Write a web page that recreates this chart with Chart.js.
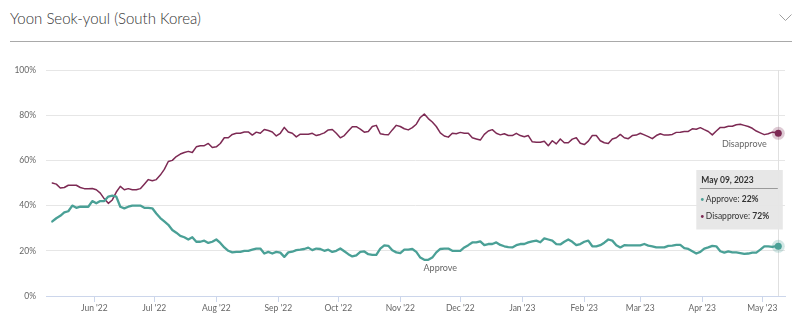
<!DOCTYPE html>
<html>
<head>
<meta charset="utf-8">
<script src="https://cdn.jsdelivr.net/npm/chart.js@4.4.0/dist/chart.umd.min.js"></script>
<style>
  html, body { margin: 0; padding: 0; background: #fff; }
  body { width: 800px; height: 327px; position: relative; overflow: hidden; font-family: Lato, sans-serif; }
  .header {
    position: absolute; left: 10px; top: 0; width: 782px; height: 41px;
    border-bottom: 1px solid #a9a9a9;
  }
  .header .title {
    position: absolute; left: 0; top: 8px; line-height: 20px;
    font-size: 15px; font-weight: 300; color: #333;
  }
  .header svg { position: absolute; right: 0; top: 13px; }
  .chart-wrap { position: absolute; left: 0; top: 50px; width: 800px; height: 277px; }
</style>
</head>
<body>
<div class="header">
  <span class="title">Yoon Seok-youl (South Korea)</span>
  <svg width="13" height="9" viewBox="0 0 13 9"><polyline points="0.5,1.5 6.5,7.5 12.5,1.5" fill="none" stroke="#a0a0a0" stroke-width="1"/></svg>
</div>
<div class="chart-wrap"><canvas id="approvalChart"></canvas></div>

<script>
// Day offsets from the first poll average (11 May 2022)
const startDate = Date.UTC(2022, 4, 11);
const sampleDays = [
  0, 2, 4, 6, 8, 10, 12, 14, 16, 18, 20, 22, 24, 26, 28, 30, 32, 34, 36, 38,
  40, 42, 44, 46, 48, 50, 52, 54, 56, 58, 60, 62, 64, 66, 68, 70, 72, 74, 76, 78,
  80, 82, 84, 86, 88, 90, 92, 94, 96, 98, 100, 102, 104, 106, 108, 110, 112, 114, 116, 118,
  120, 122, 124, 126, 128, 130, 132, 134, 136, 138, 140, 142, 144, 146, 148, 150, 152, 154, 156, 158,
  160, 162, 164, 166, 168, 170, 172, 174, 176, 178, 180, 182, 184, 186, 188, 190, 192, 194, 196, 198,
  200, 202, 204, 206, 208, 210, 212, 214, 216, 218, 220, 222, 224, 226, 228, 230, 232, 234, 236, 238,
  240, 242, 244, 246, 248, 250, 252, 254, 256, 258, 260, 262, 264, 266, 268, 270, 272, 274, 276, 278,
  280, 282, 284, 286, 288, 290, 292, 294, 296, 298, 300, 302, 304, 306, 308, 310, 312, 314, 316, 318,
  320, 322, 324, 326, 328, 330, 332, 334, 336, 338, 340, 342, 344, 346, 348, 350, 352, 354, 356, 358,
  360, 362, 363
];

const approve = [
  33, 34.4, 35.5, 37, 37.5, 40, 39, 39.5, 39.5, 39.5, 42, 41, 42, 42, 44, 44.4, 44, 39.5, 38.8, 39.5,
  40, 40, 40, 39, 39, 38.8, 36.5, 34.5, 33, 31.5, 29.2, 28, 26.6, 26, 25, 26, 24,
  24, 24.5, 23.5, 24, 25, 23.5, 21.5, 20, 19.3, 19.5, 19.5, 20, 20, 20.5, 21, 21, 18.8, 19.5, 18.8,
  19.5, 19.2, 17.3, 19.3, 19.6, 20.3, 20.5, 20.8, 21.4, 20.3, 21, 20.8, 20, 20.5, 19.5, 20, 21, 19.8,
  18.5, 17.5, 18, 19.5, 19.7, 18.5, 18.2, 18.2, 21, 22.4, 22.2, 20.2, 19.3, 19, 20.5, 20.5, 20.8, 19.5,
  17, 16, 16, 17, 19.3, 20.8, 21, 21, 20, 20, 20, 21.5, 22.5, 23.7, 23.7, 24.2, 22.5, 23, 23,
  23.7, 22.6, 22, 21.6, 21.5, 22.5, 23, 23, 23.7, 24.2, 24.5, 23.8, 25.5, 25, 24.5, 23, 22.8, 24, 25,
  24, 22.5, 23, 24, 24.5, 22, 22, 22.5, 23.6, 25, 24.5, 22.5, 21.5, 22.5, 22.4, 22.4, 22.4, 22.4, 23,
  22.3, 22, 21.5, 21.5, 21.5, 22.2, 22.3, 22.6, 22.6, 21.2, 20.8, 19.8, 18.8, 19.5, 21, 21.5, 22.2,
  22, 19.8, 19.2, 19.7, 19.3, 19.3, 19, 18.6, 18.8, 19.2, 19.2, 20.5, 22, 22, 21.7, 22.1, 22
];

const disapprove = [
  50, 49.5, 47.8, 48, 49, 49, 49, 48, 47.5, 47.5, 47.6, 47, 45.5, 43, 41, 42.5, 46, 48.5, 47, 47.5,
  47, 47, 47.5, 49.5, 51.5, 51, 51.5, 53.5, 56, 59.5, 60, 61.7, 62.8, 63.5, 64, 63.5, 66,
  66.5, 66.5, 67.5, 65.7, 66, 67.5, 70, 70, 71.5, 72, 72, 72.6, 72.6, 71.2, 72.5, 72, 73.7, 73.2, 72.6,
  70.8, 72, 74.6, 72.6, 72, 70.4, 71.6, 71.6, 71.6, 72, 71, 71.5, 72.2, 73.5, 73.7, 72, 70, 71,
  73, 74.9, 74.9, 73.8, 72.5, 72.8, 75, 75.5, 71.8, 71.5, 71.3, 73.5, 75.5, 75, 74, 73.5, 74.5, 76,
  79, 80.5, 78.5, 77, 75, 72.2, 70.8, 70.3, 72, 71.8, 72.4, 72, 72, 70, 69.5, 69, 71.5, 73, 73.6,
  72, 71.3, 71.8, 71, 71, 72, 71, 70.5, 71, 68.2, 68, 68, 68.5, 66.5, 68.7, 67.3, 69.5, 67.8, 67.8,
  69.4, 70, 67.6, 67, 68.5, 71, 71, 68.7, 67.8, 67.5, 69.5, 70, 71.5, 70, 69.6, 71, 71.2, 72, 71.3,
  70.5, 69.6, 71, 71.8, 71.2, 71.2, 71.5, 72.4, 72.5, 72.8, 72.8, 74, 73.8, 74.5, 73.6, 72.8, 71.3,
  73, 74.6, 74.6, 75.1, 75.1, 75.8, 76, 75.5, 75, 74.2, 73, 72.2, 71.4, 71.8, 72.5, 72.3, 72
];

// Month ticks along the bottom axis
const tickDates = ['2022-06-01', '2022-07-01', '2022-08-01', '2022-09-01', '2022-10-01', '2022-11-01',
  '2022-12-01', '2023-01-01', '2023-02-01', '2023-03-01', '2023-04-01', '2023-05-01'];
const tickLabels = ["Jun '22", "Jul '22", "Aug '22", "Sep '22", "Oct '22", "Nov '22",
  "Dec '22", "Jan '23", "Feb '23", "Mar '23", "Apr '23", "May '23"];
const yTicks = [0, 20, 40, 60, 80, 100];

const monthNames = ['Jan', 'Feb', 'Mar', 'Apr', 'May', 'Jun', 'Jul', 'Aug', 'Sep', 'Oct', 'Nov', 'Dec'];
const DAY = 86400000;
const tickDays = tickDates.map(d => Math.round((Date.parse(d + 'T00:00:00Z') - startDate) / DAY));

const APPROVE_COLOR = '#4aa096';
const DISAPPROVE_COLOR = '#7d2a54';
const FONT = 'Lato';

// where the inline series names sit (day, percent)
const approveLabelAt = { day: 194, value: 12.3 };
const disapproveLabelAt = { day: 346, value: 67.3 };

function formatDate(dayOffset) {
  const d = new Date(startDate + dayOffset * DAY);
  const dd = String(d.getUTCDate()).padStart(2, '0');
  return monthNames[d.getUTCMonth()] + ' ' + dd + ', ' + d.getUTCFullYear();
}

// crosshair, hover markers, series names and the tooltip box for the latest day
const overlayPlugin = {
  id: 'overlay',
  beforeDatasetsDraw(chart) {
    const ctx = chart.ctx;
    const area = chart.chartArea;
    const last = chart.getDatasetMeta(0).data[sampleDays.length - 1];
    ctx.save();
    ctx.strokeStyle = '#e0e0e0';
    ctx.lineWidth = 1;
    ctx.beginPath();
    ctx.moveTo(Math.round(last.x) + 0.5, area.top);
    ctx.lineTo(Math.round(last.x) + 0.5, area.bottom);
    ctx.stroke();
    ctx.restore();
  },
  afterDatasetsDraw(chart) {
    const ctx = chart.ctx;
    const area = chart.chartArea;
    const xs = chart.scales.x, ys = chart.scales.y;
    const n = sampleDays.length - 1;
    const ptA = chart.getDatasetMeta(0).data[n];
    const ptD = chart.getDatasetMeta(1).data[n];

    ctx.save();
    // hover halos + markers
    [[ptA, APPROVE_COLOR, 'rgba(74,160,150,0.25)'], [ptD, DISAPPROVE_COLOR, 'rgba(125,42,84,0.25)']].forEach(([p, c, h]) => {
      ctx.fillStyle = h;
      ctx.beginPath(); ctx.arc(p.x, p.y, 6.5, 0, Math.PI * 2); ctx.fill();
      ctx.fillStyle = c;
      ctx.beginPath(); ctx.arc(p.x, p.y, 3.5, 0, Math.PI * 2); ctx.fill();
    });

    // series names
    ctx.font = '9px ' + FONT;
    ctx.fillStyle = '#666';
    ctx.textAlign = 'center';
    ctx.textBaseline = 'middle';
    ctx.fillText('Approve', xs.getPixelForValue(approveLabelAt.day), ys.getPixelForValue(approveLabelAt.value));
    ctx.fillText('Disapprove', xs.getPixelForValue(disapproveLabelAt.day), ys.getPixelForValue(disapproveLabelAt.value));

    // tooltip
    const bx = ptA.x - 82, by = area.top + 100, bw = 86.5, bh = 59.5;
    ctx.fillStyle = 'rgba(230,230,230,0.95)';
    ctx.fillRect(bx, by, bw, bh);

    ctx.textAlign = 'left';
    ctx.fillStyle = '#333';
    ctx.font = 'bold 8.5px ' + FONT;
    ctx.fillText(formatDate(sampleDays[n]), bx + 5, by + 10);

    ctx.strokeStyle = '#9a9a9a';
    ctx.lineWidth = 1;
    ctx.beginPath();
    ctx.moveTo(bx + 3.5, Math.round(by + 18) + 0.5);
    ctx.lineTo(bx + 81.5, Math.round(by + 18) + 0.5);
    ctx.stroke();

    const rows = [
      ['Approve: ', approve[n], APPROVE_COLOR, by + 29.5],
      ['Disapprove: ', disapprove[n], DISAPPROVE_COLOR, by + 46.5]
    ];
    rows.forEach(([name, val, color, y]) => {
      ctx.fillStyle = color;
      ctx.beginPath(); ctx.arc(bx + 6, y, 1.4, 0, Math.PI * 2); ctx.fill();
      ctx.fillStyle = '#333';
      ctx.font = '8.5px ' + FONT;
      ctx.fillText(name, bx + 9.5, y);
      const w = ctx.measureText(name).width;
      ctx.font = 'bold 8.5px ' + FONT;
      ctx.fillText(Math.round(val) + '%', bx + 9.5 + w, y);
    });
    ctx.restore();
  }
};

const axisFont = { family: FONT, size: 8.5 };

new Chart(document.getElementById('approvalChart'), {
  type: 'line',
  data: {
    datasets: [
      {
        label: 'Approve',
        data: sampleDays.map((d, i) => ({ x: d, y: approve[i] })),
        borderColor: APPROVE_COLOR,
        borderWidth: 2.3
      },
      {
        label: 'Disapprove',
        data: sampleDays.map((d, i) => ({ x: d, y: disapprove[i] })),
        borderColor: DISAPPROVE_COLOR,
        borderWidth: 1.5
      }
    ]
  },
  options: {
    responsive: true,
    maintainAspectRatio: false,
    animation: false,
    devicePixelRatio: 1,
    layout: { padding: { top: 20, right: 15, left: 0, bottom: 0 } },
    elements: {
      point: { radius: 0, hoverRadius: 0 },
      line: { tension: 0, fill: false, borderJoinStyle: 'round', borderCapStyle: 'round' }
    },
    plugins: {
      legend: { display: false },
      tooltip: { enabled: false }
    },
    events: [],
    scales: {
      x: {
        type: 'linear',
        min: -3.15,
        max: 366.35,
        afterBuildTicks: (scale) => { scale.ticks = tickDays.map(v => ({ value: v })); },
        afterFit: (scale) => { scale.height = 31; },
        grid: { drawOnChartArea: false, drawTicks: true, tickLength: 6, color: '#ccd6eb' },
        border: { display: true, color: '#ccd6eb', width: 1 },
        ticks: {
          autoSkip: false,
          maxRotation: 0,
          padding: 1,
          color: '#666',
          font: axisFont,
          callback: (value, index) => tickLabels[index]
        }
      },
      y: {
        min: 0,
        max: 100,
        afterBuildTicks: (scale) => { scale.ticks = yTicks.map(v => ({ value: v })); },
        afterFit: (scale) => { scale.width = 46; },
        grid: {
          drawTicks: false,
          color: (ctx) => ctx.tick && ctx.tick.value === 0 ? 'rgba(0,0,0,0)' : '#e6e6e6'
        },
        border: { display: false },
        ticks: {
          padding: 10,
          color: '#666',
          font: axisFont,
          callback: (v) => v + '%'
        }
      }
    }
  },
  plugins: [overlayPlugin]
});
</script>
</body>
</html>
